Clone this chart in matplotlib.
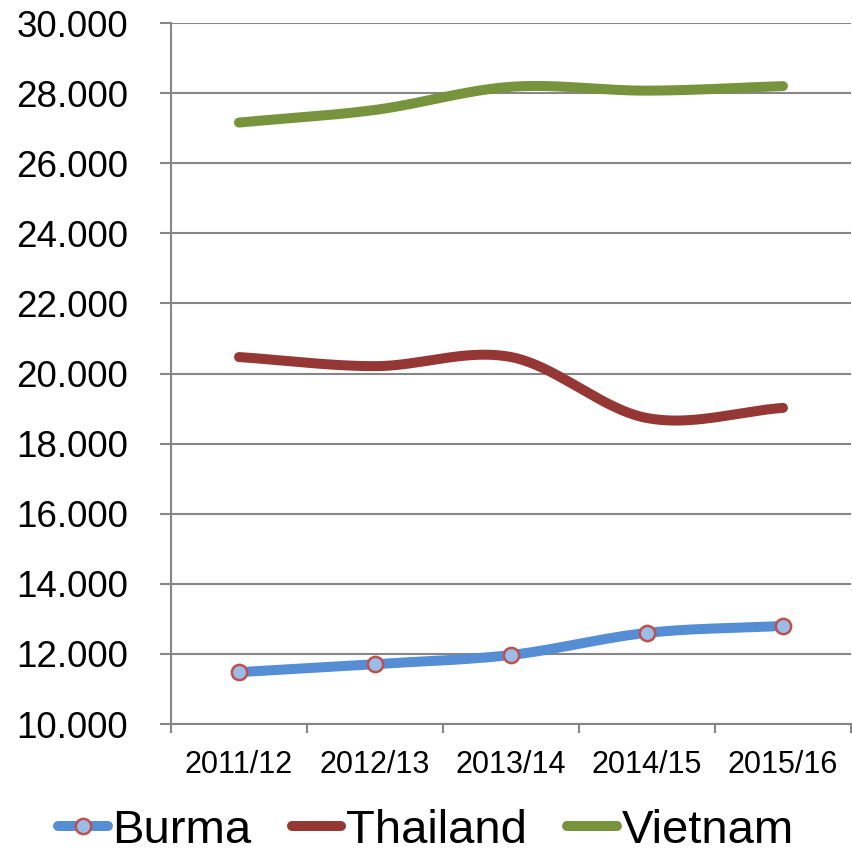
import numpy as np
import matplotlib
matplotlib.use("Agg")
import matplotlib.pyplot as plt
from matplotlib.ticker import FuncFormatter

seasons = ["2011/12", "2012/13", "2013/14", "2014/15", "2015/16"]
burma = [11480, 11710, 11970, 12600, 12800]
thailand = [20470, 20210, 20470, 18730, 19020]
vietnam = [27160, 27520, 28180, 28070, 28200]

plt.rcParams["font.family"] = ["Liberation Sans", "DejaVu Sans"]


def smooth(xs, ys, n=40):
    # Catmull-Rom style curve through the points, like Excel's smoothed lines
    xs = np.asarray(xs, float)
    ys = np.asarray(ys, float)
    px = np.concatenate([[2 * xs[0] - xs[1]], xs, [2 * xs[-1] - xs[-2]]])
    py = np.concatenate([[2 * ys[0] - ys[1]], ys, [2 * ys[-1] - ys[-2]]])
    out_x, out_y = [], []
    t = np.linspace(0, 1, n)
    for i in range(1, len(px) - 2):
        for p, out in ((px, out_x), (py, out_y)):
            p0, p1, p2, p3 = p[i - 1], p[i], p[i + 1], p[i + 2]
            seg = 0.5 * ((2 * p1) + (-p0 + p2) * t
                         + (2 * p0 - 5 * p1 + 4 * p2 - p3) * t ** 2
                         + (-p0 + 3 * p1 - 3 * p2 + p3) * t ** 3)
            out.extend(seg)
    return np.array(out_x), np.array(out_y)


fig = plt.figure(figsize=(8.52, 8.52), dpi=100)
ax = fig.add_axes([0.2007, 0.1502, 0.7981, 0.8228])

x = np.arange(len(seasons))
series = [
    ("Burma", burma, "#558ED5"),
    ("Thailand", thailand, "#953735"),
    ("Vietnam", vietnam, "#77933C"),
]
for name, vals, color in series:
    sx, sy = smooth(x, vals)
    ax.plot(sx, sy, color=color, lw=7.2, solid_capstyle="round", zorder=3)

ax.plot(x, burma, ls="none", marker="o", ms=11, mfc="#9CBCE8", mec="#C0504D",
        mew=1.8, zorder=4)

# legend handles
h_burma, = ax.plot([], [], color="#558ED5", lw=7.2, solid_capstyle="round",
                   marker="o", ms=11, mfc="#9CBCE8", mec="#C0504D", mew=1.8)
h_thai, = ax.plot([], [], color="#953735", lw=7.2, solid_capstyle="round")
h_viet, = ax.plot([], [], color="#77933C", lw=7.2, solid_capstyle="round")

ax.set_xlim(-0.5, len(seasons) - 0.5)
ax.set_ylim(10000, 30000)
ax.set_yticks(np.arange(10000, 30001, 2000))
ax.yaxis.set_major_formatter(FuncFormatter(lambda v, p: f"{v/1000:.3f}"))
ax.set_xticks(x)
ax.set_xticklabels(seasons)
ax.set_xticks(np.arange(-0.5, len(seasons)), minor=True)

ax.grid(axis="y", color="#868686", lw=1.5, zorder=1)
for side in ("top", "right"):
    ax.spines[side].set_visible(False)
for side in ("left", "bottom"):
    ax.spines[side].set_color("#868686")
    ax.spines[side].set_linewidth(1.5)

ax.tick_params(axis="y", labelsize=26.5, length=8, width=1.5, color="#868686", pad=23)
ax.tick_params(axis="x", which="major", labelsize=22, length=0, pad=19)
ax.tick_params(axis="x", which="minor", length=6.5, width=1.5, color="#868686")

fig.legend([h_burma, h_thai, h_viet], ["Burma", "Thailand", "Vietnam"],
           loc="center", bbox_to_anchor=(0.5, 0.025), ncol=3, frameon=False,
           fontsize=34, handlelength=1.05, handletextpad=0.1, columnspacing=0.85,
           borderpad=0, borderaxespad=0)

fig.savefig("out.png", dpi=100)
